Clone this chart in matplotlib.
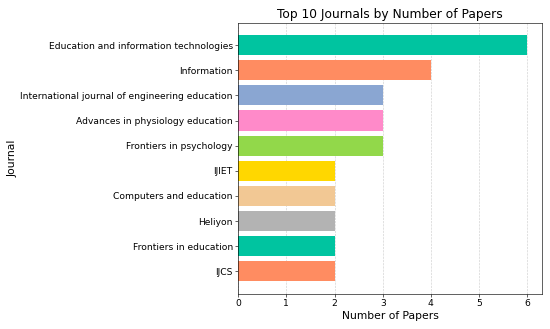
import matplotlib
matplotlib.use("Agg")
import matplotlib.pyplot as plt

journals = ["Education and information technologies", "Information",
            "International journal of engineering education",
            "Advances in physiology education", "Frontiers in psychology",
            "IJIET", "Computers and education", "Heliyon",
            "Frontiers in education", "IJCS"]
papers = [6, 4, 3, 3, 3, 2, 2, 2, 2, 2]
colors = ["#00C4A0", "#FF8C61", "#8AA6D2", "#FF8AC9", "#92D84A",
          "#FFD700", "#F2C894", "#B3B3B3", "#00C4A0", "#FF8C61"]

fig = plt.figure(figsize=(10, 5.982), dpi=55)
ax = fig.add_axes([0.433, 0.107, 0.552, 0.824])
ax.barh(journals[::-1], papers[::-1], color=colors[::-1], zorder=2)
ax.grid(axis="x", linestyle="--", alpha=0.6, zorder=0)
ax.set_title("Top 10 Journals by Number of Papers", fontsize=16)
ax.set_xlabel("Number of Papers", fontsize=14)
ax.set_ylabel("Journal", fontsize=14)
ax.tick_params(labelsize=12)
fig.savefig("out.png", dpi=55)
